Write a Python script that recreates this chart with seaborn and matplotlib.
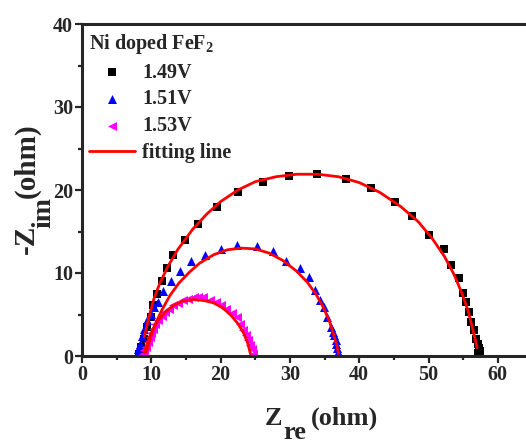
import matplotlib
matplotlib.use("Agg")
import matplotlib.pyplot as plt
import seaborn as sns

x_149 = [8.2, 8.5, 8.9, 9.4, 9.9, 10.3, 10.8, 11.5, 12.3, 13.2, 14.8, 16.8, 19.5, 22.5, 26.1,
         29.9, 33.9, 38.1, 41.7, 45.1, 47.6, 50.1, 52.2, 53.3, 54.4, 55.0, 55.4, 55.8, 56.2,
         56.5, 56.8, 57.1, 57.3, 57.4, 57.2]
y_149 = [0.3, 1.1, 2.1, 3.5, 4.7, 6.1, 7.5, 9.0, 10.6, 12.2, 14.0, 15.9, 17.9, 19.7, 21.0,
         21.7, 21.9, 21.3, 20.2, 18.6, 16.9, 14.6, 12.9, 11.0, 9.4, 7.6, 6.5, 5.3, 4.1,
         3.1, 2.1, 1.5, 1.0, 0.6, 0.4]

x_151 = [7.9, 8.1, 8.3, 8.6, 8.9, 9.4, 9.9, 10.4, 10.9, 11.7, 12.8, 14.2, 15.7, 17.7, 20.0,
         22.3, 25.2, 27.5, 29.4, 31.5, 32.8, 33.6, 34.3, 34.9, 35.4, 35.9, 36.2, 36.4, 36.6,
         36.7, 36.8, 36.9]
y_151 = [0.3, 0.9, 1.5, 2.4, 3.3, 4.3, 5.1, 5.9, 6.5, 7.8, 9.0, 10.2, 11.4, 12.2, 12.9,
         13.4, 13.2, 12.6, 11.4, 10.6, 9.5, 8.0, 6.8, 5.9, 4.7, 3.5, 2.9, 2.5, 1.9,
         1.5, 1.0, 0.5]

x_153 = [8.8, 9.0, 9.3, 9.5, 9.8, 10.0, 10.3, 10.6, 11.0, 11.5, 12.0, 12.6, 13.2, 13.9, 14.6,
         15.3, 16.1, 16.8, 17.5, 18.4, 19.4, 20.1, 20.8, 21.6, 22.3, 22.8, 23.3, 23.7, 24.0,
         24.3, 24.5, 24.7]
y_153 = [0.3, 0.7, 1.1, 1.7, 2.3, 2.8, 3.3, 3.8, 4.3, 4.8, 5.3, 5.7, 6.1, 6.4, 6.7,
         6.9, 7.1, 7.1, 7.1, 6.8, 6.5, 6.1, 5.7, 5.2, 4.7, 3.9, 3.1, 2.5, 1.9,
         1.3, 0.9, 0.2]

# fitted curves
fx_149 = [9.0, 9.6, 10.3, 11.2, 12.4, 13.8, 16.0, 18.0, 20.0, 22.5, 25.0, 28.0, 31.0, 34.0,
          37.0, 40.0, 43.0, 46.0, 48.5, 50.5, 52.3, 53.7, 54.8, 55.7, 56.3, 56.8, 57.0]
fy_149 = [2.3, 4.5, 6.7, 8.7, 10.8, 12.8, 15.3, 17.1, 18.6, 20.0, 21.0, 21.6, 21.9, 21.9,
          21.6, 20.9, 19.7, 18.0, 16.2, 14.2, 12.0, 9.8, 7.6, 5.5, 3.5, 1.8, 1.0]

fx_151 = [9.3, 9.8, 10.5, 11.5, 12.7, 14.0, 15.5, 17.0, 19.0, 21.0, 23.0, 25.0, 27.0, 29.0,
          31.0, 32.5, 33.8, 34.8, 35.7, 36.3, 36.8, 37.0]
fy_151 = [0.5, 2.0, 3.7, 5.5, 7.3, 8.8, 10.1, 11.2, 12.2, 12.8, 13.0, 12.9, 12.4, 11.5,
          10.2, 8.9, 7.4, 5.9, 4.2, 2.6, 1.2, 0.3]

fx_153 = [9.0, 9.5, 10.2, 11.0, 12.0, 13.2, 14.5, 16.0, 17.5, 19.0, 20.3, 21.5, 22.5, 23.3,
          23.9, 24.3]
fy_153 = [0.4, 1.8, 3.2, 4.3, 5.3, 6.1, 6.6, 6.8, 6.7, 6.4, 5.8, 4.9, 3.9, 2.8, 1.6, 0.3]

sns.set_style("ticks")
plt.rcParams["font.family"] = ["Liberation Serif", "DejaVu Serif"]
plt.rcParams["font.weight"] = "bold"
plt.rcParams["mathtext.fontset"] = "custom"
plt.rcParams["mathtext.rm"] = "Liberation Serif:bold"
plt.rcParams["mathtext.bf"] = "Liberation Serif:bold"
plt.rcParams["mathtext.it"] = "Liberation Serif:bold"

fig = plt.figure(figsize=(5.26, 4.43), dpi=100)
ax = fig.add_axes([82 / 526, 87 / 443, 444 / 526, 332 / 443])

sns.scatterplot(x=x_149, y=y_149, marker="s", s=28, color="#000000", linewidth=0, ax=ax)
h1 = ax.collections[-1]
sns.scatterplot(x=x_151, y=y_151, marker="^", s=42, color="#0000FF", linewidth=0, ax=ax)
h2 = ax.collections[-1]
sns.scatterplot(x=x_153, y=y_153, marker="<", s=42, color="#FF00FF", linewidth=0, ax=ax)
h3 = ax.collections[-1]

for fx, fy in [(fx_149, fy_149), (fx_151, fy_151), (fx_153, fy_153)]:
    sns.lineplot(x=fx, y=fy, sort=False, color="#FF0000", lw=2, ax=ax)
h4 = ax.lines[0]

ax.set_xlim(0, 444 / 6.93)
ax.set_ylim(0, 40)
ax.set_xticks(range(0, 61, 10))
ax.set_xticks(range(5, 61, 10), minor=True)
ax.set_yticks(range(0, 41, 10))
ax.set_yticks(range(5, 41, 10), minor=True)
ax.tick_params(which="major", direction="out", length=5, width=1.6, labelsize=14.5, pad=1.5)
ax.tick_params(which="minor", direction="out", length=3, width=1.6)
ax.tick_params(top=False, right=False)
for lab in ax.get_xticklabels() + ax.get_yticklabels():
    lab.set_fontweight("bold")
for side in ["left", "bottom", "top"]:
    ax.spines[side].set_linewidth(2.2)
ax.spines["right"].set_visible(False)
ax.set_xlabel("")
ax.set_ylabel("")

# axis labels with full size subscripts
fig.text(265 / 526, 1 - 425 / 443, "Z", fontsize=19, fontweight="bold", ha="left", va="baseline")
fig.text(283 / 526, 1 - 439 / 443, "re", fontsize=19, fontweight="bold", ha="left", va="baseline")
fig.text(311 / 526, 1 - 425 / 443, "(ohm)", fontsize=19, fontweight="bold", ha="left", va="baseline")

fig.text(34 / 526, 1 - 254 / 443, "-Z", fontsize=21, fontweight="bold", rotation=90,
         rotation_mode="anchor", ha="left", va="baseline")
fig.text(50 / 526, 1 - 228 / 443, "im", fontsize=20, fontweight="bold", rotation=90,
         rotation_mode="anchor", ha="left", va="baseline")
fig.text(34 / 526, 1 - 198 / 443, "(ohm)", fontsize=21, fontweight="bold", rotation=90,
         rotation_mode="anchor", ha="left", va="baseline")

leg = ax.legend([h1, h2, h3, h4], ["1.49V", "1.51V", "1.53V", "fitting line"],
                title=r"Ni doped FeF$_2$", loc="upper left", bbox_to_anchor=(0.016, 0.976),
                frameon=False, fontsize=14.5, title_fontsize=14.5, borderpad=0,
                borderaxespad=0, handlelength=2.3, handletextpad=0.35, labelspacing=0.33,
                scatterpoints=1, alignment="left")
for t in leg.get_texts():
    t.set_fontweight("bold")
leg.get_title().set_fontweight("bold")

fig.savefig("out.png", dpi=100)
